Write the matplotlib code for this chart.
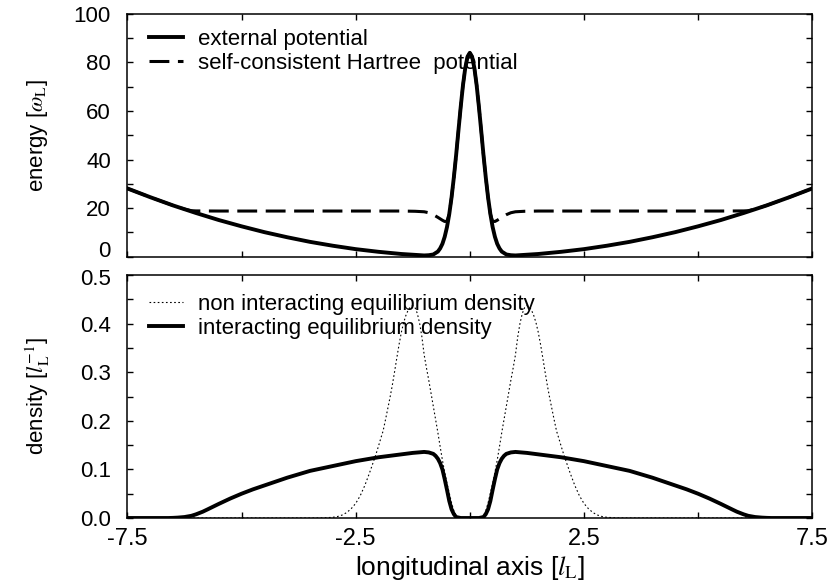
import matplotlib
matplotlib.use("Agg")
import matplotlib.pyplot as plt
from matplotlib.ticker import FixedLocator, MultipleLocator, FormatStrFormatter, FuncFormatter

plt.rcParams['font.family'] = ['Liberation Sans', 'DejaVu Sans']
plt.rcParams['mathtext.fontset'] = 'stix'
plt.rcParams['axes.unicode_minus'] = False

# ---- data ----
# external potential (harmonic trap + central barrier)
x_pot = [-7.5, -7.0, -6.5, -6.0, -5.5, -5.0, -4.5, -4.0, -3.5, -3.0, -2.5, -2.0, -1.5,
         -1.25, -1.0, -0.9, -0.8, -0.7, -0.65, -0.6, -0.55, -0.5, -0.45, -0.4, -0.35,
         -0.3, -0.25, -0.2, -0.15, -0.1, -0.05, 0.0,
         0.05, 0.1, 0.15, 0.2, 0.25, 0.3, 0.35, 0.4, 0.45, 0.5, 0.55, 0.6, 0.65, 0.7,
         0.8, 0.9, 1.0, 1.25, 1.5, 2.0, 2.5, 3.0, 3.5, 4.0, 4.5, 5.0, 5.5, 6.0, 6.5,
         7.0, 7.5]
v_ext = [28.1, 24.5, 21.1, 18.0, 15.1, 12.5, 10.1, 8.0, 6.1, 4.5, 3.1, 2.0, 1.1,
         0.8, 0.5, 0.6, 0.9, 2.1, 3.4, 5.3, 8.2, 12.2, 17.6, 24.4, 32.6,
         41.8, 51.8, 61.6, 70.6, 77.7, 82.4, 84.0,
         82.4, 77.7, 70.6, 61.6, 51.8, 41.8, 32.6, 24.4, 17.6, 12.2, 8.2, 5.3, 3.4, 2.1,
         0.9, 0.6, 0.5, 0.8, 1.1, 2.0, 3.1, 4.5, 6.1, 8.0, 10.1, 12.5, 15.1, 18.0, 21.1,
         24.5, 28.1]

# self-consistent Hartree potential
x_hart = [-7.5, -7.0, -6.5, -6.25, -6.1, -6.0, -5.5, -5.0, -4.0, -3.0, -2.0, -1.5,
          -1.2, -1.0, -0.9, -0.8, -0.7, -0.6, -0.55, -0.5, -0.45, -0.4, -0.35, -0.3,
          -0.25, -0.2, -0.15, -0.1, -0.05, 0.0,
          0.05, 0.1, 0.15, 0.2, 0.25, 0.3, 0.35, 0.4, 0.45, 0.5, 0.55, 0.6, 0.7, 0.8,
          0.9, 1.0, 1.2, 1.5, 2.0, 3.0, 4.0, 5.0, 5.5, 6.0, 6.1, 6.25, 6.5, 7.0, 7.5]
v_hart = [28.1, 24.5, 21.1, 19.6, 18.95, 18.85, 18.8, 18.8, 18.8, 18.8, 18.8, 18.8,
          18.7, 18.5, 18.1, 17.3, 16.2, 15.0, 14.5, 14.6, 17.6, 24.4, 32.6, 41.8,
          51.8, 61.6, 70.6, 77.7, 82.4, 84.0,
          82.4, 77.7, 70.6, 61.6, 51.8, 41.8, 32.6, 24.4, 17.6, 14.6, 14.5, 15.0, 16.2, 17.3,
          18.1, 18.5, 18.7, 18.8, 18.8, 18.8, 18.8, 18.8, 18.8, 18.85, 18.95, 19.6, 21.1, 24.5, 28.1]

# interacting equilibrium density
x_int = [-7.5, -6.6, -6.5, -6.4, -6.25, -6.1, -6.0, -5.85, -5.75, -5.5, -5.25, -5.0,
         -4.75, -4.5, -4.25, -4.0, -3.75, -3.5, -3.25, -3.0, -2.75, -2.5, -2.25, -2.0,
         -1.75, -1.5, -1.25, -1.0, -0.9, -0.8, -0.75, -0.7, -0.65, -0.6, -0.55, -0.5,
         -0.45, -0.4, -0.35, -0.3, -0.2, 0.0,
         0.2, 0.3, 0.35, 0.4, 0.45, 0.5, 0.55, 0.6, 0.65, 0.7, 0.75, 0.8, 0.9, 1.0,
         1.25, 1.5, 1.75, 2.0, 2.25, 2.5, 2.75, 3.0, 3.25, 3.5, 3.75, 4.0, 4.25, 4.5,
         4.75, 5.0, 5.25, 5.5, 5.75, 5.85, 6.0, 6.1, 6.25, 6.4, 6.5, 6.6, 7.5]
n_int = [0.0, 0.0, 0.0003, 0.0008, 0.002, 0.0045, 0.0075, 0.013, 0.0175, 0.029, 0.040, 0.050,
         0.059, 0.067, 0.075, 0.083, 0.090, 0.097, 0.102, 0.107, 0.112, 0.117, 0.121, 0.125,
         0.128, 0.131, 0.134, 0.136, 0.135, 0.132, 0.128, 0.122, 0.113, 0.100, 0.080, 0.058,
         0.035, 0.018, 0.008, 0.002, 0.0, 0.0,
         0.0, 0.002, 0.008, 0.018, 0.035, 0.058, 0.080, 0.100, 0.113, 0.122, 0.128, 0.132, 0.135, 0.136,
         0.134, 0.131, 0.128, 0.125, 0.121, 0.117, 0.112, 0.107, 0.102, 0.097, 0.090, 0.083, 0.075, 0.067,
         0.059, 0.050, 0.040, 0.029, 0.0175, 0.013, 0.0075, 0.0045, 0.002, 0.0008, 0.0003, 0.0, 0.0]

# non interacting equilibrium density
x_non = [-7.5, -3.4, -3.2, -3.0, -2.9, -2.8, -2.7, -2.6, -2.5, -2.4, -2.3, -2.2, -2.1,
         -2.05, -2.0, -1.95, -1.9, -1.85, -1.8, -1.75, -1.7, -1.65, -1.6, -1.55, -1.5,
         -1.45, -1.4, -1.35, -1.3, -1.25, -1.2, -1.15, -1.1, -1.05, -1.0, -0.95, -0.9,
         -0.85, -0.8, -0.75, -0.7, -0.65, -0.6, -0.55, -0.5, -0.45, -0.4, -0.35, -0.3,
         -0.25, -0.2, 0.0,
         0.2, 0.25, 0.3, 0.35, 0.4, 0.45, 0.5, 0.55, 0.6, 0.65, 0.7, 0.75, 0.8, 0.85,
         0.9, 0.95, 1.0, 1.05, 1.1, 1.15, 1.2, 1.25, 1.3, 1.35, 1.4, 1.45, 1.5, 1.55,
         1.6, 1.65, 1.7, 1.75, 1.8, 1.85, 1.9, 1.95, 2.0, 2.05, 2.1, 2.2, 2.3, 2.4,
         2.5, 2.6, 2.7, 2.8, 2.9, 3.0, 3.2, 3.4, 7.5]
n_non = [0.0, 0.0, 0.0003, 0.0015, 0.003, 0.006, 0.011, 0.019, 0.030, 0.046, 0.067, 0.092, 0.119,
         0.133, 0.148, 0.164, 0.179, 0.201, 0.224, 0.247, 0.272, 0.300, 0.329, 0.357, 0.382,
         0.402, 0.417, 0.428, 0.435, 0.437, 0.433, 0.421, 0.401, 0.373, 0.336, 0.309, 0.284,
         0.257, 0.230, 0.203, 0.176, 0.147, 0.119, 0.094, 0.071, 0.051, 0.031, 0.015, 0.005,
         0.001, 0.0, 0.0,
         0.0, 0.001, 0.005, 0.015, 0.031, 0.051, 0.071, 0.094, 0.119, 0.147, 0.176, 0.203, 0.230, 0.257,
         0.284, 0.309, 0.336, 0.373, 0.401, 0.421, 0.433, 0.437, 0.435, 0.428, 0.417, 0.402, 0.382, 0.357,
         0.329, 0.300, 0.272, 0.247, 0.224, 0.201, 0.179, 0.164, 0.148, 0.133, 0.119, 0.092, 0.067, 0.046,
         0.030, 0.019, 0.011, 0.006, 0.003, 0.0015, 0.0003, 0.0, 0.0]

x_major = [-7.5, -2.5, 2.5, 7.5]
x_minor = [-5.0, 0.0, 5.0]

fig = plt.figure(figsize=(8.33, 5.84), dpi=100)
ax1 = fig.add_axes([0.153, 0.5605, 0.822, 0.4156])
ax2 = fig.add_axes([0.153, 0.113, 0.822, 0.416])

leg_kw = dict(loc='upper left', frameon=False, fontsize=16, handlelength=1.5,
              handletextpad=0.7, labelspacing=0.15, borderaxespad=0.0, borderpad=0.4)

ax1.plot(x_hart, v_hart, color='black', lw=2.2, dashes=(6.5, 2.8),
         label='self-consistent Hartree  potential', zorder=2)
ax1.plot(x_pot, v_ext, color='black', lw=2.8, label='external potential', zorder=3)
h, lab = ax1.get_legend_handles_labels()
ax1.legend([h[1], h[0]], [lab[1], lab[0]], bbox_to_anchor=(0.019, 0.975), **leg_kw)
ax1.set_ylim(0, 100)
ax1.yaxis.set_major_locator(MultipleLocator(20))
ax1.yaxis.set_minor_locator(MultipleLocator(10))
# the lowest label of the top panel is placed by hand, a little higher
ax1.yaxis.set_major_formatter(FuncFormatter(lambda v, p: '' if v == 0 else '%d' % v))
ax1.set_ylabel(r'energy [$\omega_{\mathrm{L}}$]', fontsize=16, labelpad=17)

ax2.plot(x_non, n_non, color='black', lw=0.8, linestyle=(0, (1.5, 2.2)),
         label='non interacting equilibrium density')
ax2.plot(x_int, n_int, color='black', lw=2.8, label='interacting equilibrium density')
ax2.legend(bbox_to_anchor=(0.019, 0.96), **leg_kw)
ax2.set_ylim(0, 0.5)
ax2.yaxis.set_major_locator(MultipleLocator(0.1))
ax2.yaxis.set_minor_locator(MultipleLocator(0.05))
# the top label of the bottom panel is placed by hand, a little lower
ax2.yaxis.set_major_formatter(FuncFormatter(lambda v, p: '' if v > 0.45 else '%.1f' % v))
ax2.set_ylabel(r'density [$l_{\mathrm{L}}^{-1}$]', fontsize=16, labelpad=20)
ax2.set_xlabel(r'longitudinal axis [$l_{\mathrm{L}}$]', fontsize=19, labelpad=3)

for ax in (ax1, ax2):
    ax.set_xlim(-7.5, 7.5)
    ax.xaxis.set_major_locator(FixedLocator(x_major))
    ax.xaxis.set_minor_locator(FixedLocator(x_minor))
    ax.tick_params(which='both', direction='in', top=True, right=True,
                   length=4.5, width=1.0, labelsize=17)
    ax.tick_params(axis='y', which='both', pad=12, labelsize=16)
    ax.tick_params(axis='x', which='both', pad=7)
    for s in ax.spines.values():
        s.set_linewidth(1.1)

ax1.tick_params(labelbottom=False)
ax2.xaxis.set_major_formatter(FormatStrFormatter('%.1f'))

ax1.annotate('0', xy=(0, 0), xycoords='axes fraction', xytext=(-12, 3.5),
             textcoords='offset points', ha='right', va='center', fontsize=16)
ax2.annotate('0.5', xy=(0, 1), xycoords='axes fraction', xytext=(-12, -3.5),
             textcoords='offset points', ha='right', va='center', fontsize=16)

fig.savefig('out.png', dpi=100)
